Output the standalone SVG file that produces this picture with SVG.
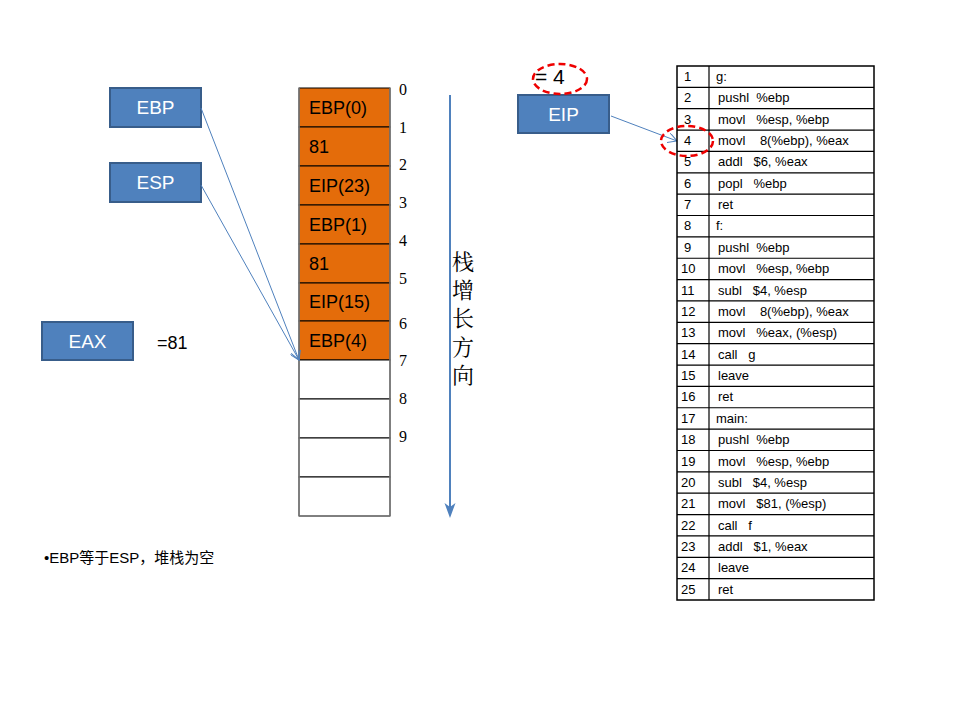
<svg xmlns="http://www.w3.org/2000/svg" width="960" height="720" viewBox="0 0 960 720">
<defs>
<style>
.reg rect{fill:#4f81bd;stroke:#385d8a;stroke-width:2}
.reg text{fill:#fff;font-family:"Liberation Sans",Arial,sans-serif;font-size:19px;text-anchor:middle}
.cell{fill:#e46c0a;stroke:#000;stroke-width:1}
.empty{fill:#fff;stroke:#000;stroke-width:1}
.st{font-family:"Liberation Sans",Arial,sans-serif;font-size:18px;fill:#000}
.idx{font-family:"Liberation Serif","Times New Roman",serif;font-size:16px;fill:#000}
.tb text{font-family:"Liberation Sans",Arial,sans-serif;font-size:13px;fill:#000;white-space:pre}
.conn{stroke:#4f81bd;stroke-width:1;fill:none}
.ell{fill:none;stroke:#e00;stroke-width:2.5;stroke-dasharray:7,4}
</style>
<marker id="open" viewBox="0 0 10 10" refX="9" refY="5" markerWidth="10" markerHeight="10" markerUnits="userSpaceOnUse" orient="auto">
<path d="M0,0 L9,5 L0,10" fill="none" stroke="#4f81bd" stroke-width="1"/>
</marker>
</defs>
<rect width="960" height="720" fill="#fff"/>

<g id="stack">
<rect class="cell" x="299" y="88" width="91" height="39"/>
<rect class="cell" x="299" y="127" width="91" height="39"/>
<rect class="cell" x="299" y="166" width="91" height="39"/>
<rect class="cell" x="299" y="205" width="91" height="39"/>
<rect class="cell" x="299" y="244" width="91" height="39"/>
<rect class="cell" x="299" y="283" width="91" height="38"/>
<rect class="cell" x="299" y="321" width="91" height="39"/>
<rect class="empty" x="299" y="360" width="91" height="39"/>
<rect class="empty" x="299" y="399" width="91" height="39"/>
<rect class="empty" x="299" y="438" width="91" height="39"/>
<rect class="empty" x="299" y="477" width="91" height="39"/>
<path d="M299,88 V516 M390,88 V516" stroke="#808080" stroke-width="1.5" fill="none"/>
<text class="st" x="309" y="114">EBP(0)</text>
<text class="st" x="309" y="153">81</text>
<text class="st" x="309" y="192">EIP(23)</text>
<text class="st" x="309" y="231">EBP(1)</text>
<text class="st" x="309" y="270">81</text>
<text class="st" x="309" y="308">EIP(15)</text>
<text class="st" x="309" y="347">EBP(4)</text>
</g>

<g id="indices">
<text class="idx" x="399" y="95">0</text>
<text class="idx" x="399" y="133">1</text>
<text class="idx" x="399" y="170">2</text>
<text class="idx" x="399" y="208">3</text>
<text class="idx" x="399" y="246">4</text>
<text class="idx" x="399" y="284">5</text>
<text class="idx" x="399" y="329">6</text>
<text class="idx" x="399" y="366">7</text>
<text class="idx" x="399" y="404">8</text>
<text class="idx" x="399" y="442">9</text>
</g>

<g id="growth">
<line x1="450" y1="95" x2="450" y2="508" stroke="#4f81bd" stroke-width="2"/>
<path d="M444.5,503 L450,518 L455.5,503 L450,507 Z" fill="#4f81bd"/>
<g font-family="'Noto Serif CJK SC','Noto Sans CJK SC',serif" font-size="22" text-anchor="middle" fill="#000">
<text x="463" y="270">栈</text>
<text x="463" y="298">增</text>
<text x="463" y="326">长</text>
<text x="463" y="355">方</text>
<text x="463" y="383">向</text>
</g>
</g>

<g id="ebp" class="reg"><rect x="110" y="88" width="91" height="39"/><text x="155.5" y="114">EBP</text></g>
<g id="esp" class="reg"><rect x="110" y="163" width="91" height="39"/><text x="155.5" y="189">ESP</text></g>
<g id="eax" class="reg"><rect x="42" y="322" width="91" height="38"/><text x="87.5" y="348">EAX</text></g>
<g id="eip" class="reg"><rect x="518" y="95" width="91" height="38"/><text x="563.5" y="121">EIP</text></g>

<text x="157" y="349" font-family="'Liberation Sans',Arial,sans-serif" font-size="18">=81</text>
<text x="535" y="84" font-family="'Liberation Sans',Arial,sans-serif" font-size="21" style="white-space:pre">= 4</text>

<g id="connectors">
<line class="conn" x1="201" y1="108" x2="299" y2="360" marker-end="url(#open)"/>
<line class="conn" x1="201" y1="185" x2="299" y2="360" marker-end="url(#open)"/>
<line class="conn" x1="611" y1="116" x2="677" y2="141" marker-end="url(#open)"/>
</g>

<g id="code">
<rect x="677" y="66" width="197" height="534" fill="#fff" stroke="#000" stroke-width="1.5"/>
<path d="M709,66 V600 M677,87.36 H874 M677,108.72 H874 M677,130.08 H874 M677,151.44 H874 M677,172.8 H874 M677,194.16 H874 M677,215.52 H874 M677,236.88 H874 M677,258.24 H874 M677,279.6 H874 M677,300.96 H874 M677,322.32 H874 M677,343.68 H874 M677,365.04 H874 M677,386.4 H874 M677,407.76 H874 M677,429.12 H874 M677,450.48 H874 M677,471.84 H874 M677,493.2 H874 M677,514.56 H874 M677,535.92 H874 M677,557.28 H874 M677,578.64 H874" stroke="#000" stroke-width="1.2" fill="none"/>
<g class="tb">
<text x="684" y="81">1</text><text x="716" y="81">g:</text>
<text x="684" y="102">2</text><text x="718" y="102">pushl  %ebp</text>
<text x="684" y="124">3</text><text x="718" y="124">movl   %esp, %ebp</text>
<text x="684" y="145">4</text><text x="718" y="145">movl    8(%ebp), %eax</text>
<text x="684" y="166">5</text><text x="718" y="166">addl   $6, %eax</text>
<text x="684" y="188">6</text><text x="718" y="188">popl   %ebp</text>
<text x="684" y="209">7</text><text x="718" y="209">ret</text>
<text x="684" y="230">8</text><text x="716" y="230">f:</text>
<text x="684" y="252">9</text><text x="718" y="252">pushl  %ebp</text>
<text x="681" y="273">10</text><text x="718" y="273">movl   %esp, %ebp</text>
<text x="681" y="295">11</text><text x="718" y="295">subl   $4, %esp</text>
<text x="681" y="316">12</text><text x="718" y="316">movl    8(%ebp), %eax</text>
<text x="681" y="337">13</text><text x="718" y="337">movl   %eax, (%esp)</text>
<text x="681" y="359">14</text><text x="718" y="359">call   g</text>
<text x="681" y="380">15</text><text x="718" y="380">leave</text>
<text x="681" y="401">16</text><text x="718" y="401">ret</text>
<text x="681" y="423">17</text><text x="716" y="423">main:</text>
<text x="681" y="444">18</text><text x="718" y="444">pushl  %ebp</text>
<text x="681" y="466">19</text><text x="718" y="466">movl   %esp, %ebp</text>
<text x="681" y="487">20</text><text x="718" y="487">subl   $4, %esp</text>
<text x="681" y="508">21</text><text x="718" y="508">movl   $81, (%esp)</text>
<text x="681" y="530">22</text><text x="718" y="530">call   f</text>
<text x="681" y="551">23</text><text x="718" y="551">addl   $1, %eax</text>
<text x="681" y="572">24</text><text x="718" y="572">leave</text>
<text x="681" y="594">25</text><text x="718" y="594">ret</text>
</g>
</g>

<ellipse class="ell" cx="560" cy="79" rx="27" ry="15"/>
<ellipse class="ell" cx="687" cy="141" rx="26" ry="15"/>

<text x="44" y="563" font-family="'Liberation Sans','Noto Sans CJK SC',sans-serif" font-size="15">•EBP等于ESP，堆栈为空</text>
</svg>
